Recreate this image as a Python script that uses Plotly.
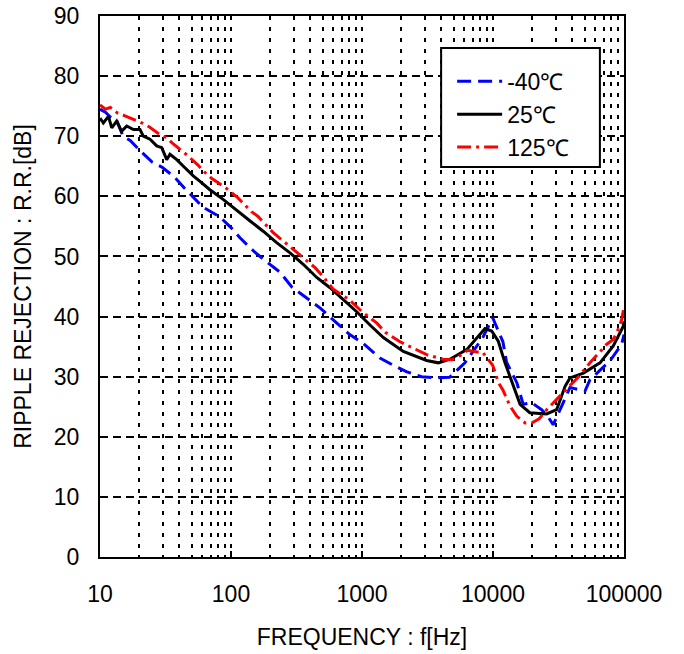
import plotly.graph_objects as go

# ---- data ----
freq_25 = [10, 10.6, 11.6, 12.3, 13.4, 14.6, 16.0, 18.0, 20.2, 21.4, 24.1, 27.1, 29.6, 32.3, 34.2,
           38.5, 43.3, 48.6, 51.5, 58, 69, 87, 110, 140, 176, 223, 282, 356, 451, 570, 720, 911,
           1151, 1455, 2067, 3116, 3822, 4697, 6300, 7510, 8690, 9770, 10970, 12350, 14300,
           16100, 19100, 25700, 30600, 35500, 38700, 49000, 65600, 82800, 98800, 100000]
rr_25 = [73.0, 72.2, 73.3, 71.4, 72.5, 70.8, 71.7, 71.1, 71.1, 70.0, 69.5, 68.4, 68.1, 66.1, 67.0,
         66.1, 65.0, 63.9, 63.4, 62.5, 61.1, 59.5, 57.8, 55.9, 54.2, 52.3, 50.6, 48.7, 46.5, 44.8,
         42.8, 40.8, 38.6, 36.5, 34.2, 32.7, 32.3, 32.9, 34.5, 36.5, 38.0, 37.6, 35.9, 32.3, 28.4,
         25.4, 24.0, 23.8, 24.5, 28.4, 29.8, 30.6, 32.3, 35.1, 38.4, 39.2]

freq_m40 = [10, 11, 12, 13.5, 15, 17, 20, 25, 30, 37, 44, 52, 61, 82, 100, 117, 152, 190, 236,
            292, 380, 480, 643, 806, 1011, 1370, 1700, 2200, 2850, 3600, 4660, 6100, 7200, 8400,
            9950, 11900, 12700, 15200, 17000, 19700, 21500, 23500, 26000, 28800, 34400, 38700,
            50400, 55000, 78000, 96000, 100000]
rr_m40 = [74.5, 74.0, 73.2, 72.5, 70.0, 69.3, 67.7, 65.7, 64.8, 63.2, 61.4, 59.8, 58.2, 56.6,
          54.8, 53.1, 50.7, 49.0, 47.4, 44.9, 43.0, 41.4, 38.9, 37.0, 35.6, 33.1, 32.0, 30.8,
          30.0, 29.8, 29.9, 32.3, 34.5, 36.6, 39.8, 35.8, 32.4, 29.0, 25.4, 25.7, 25.1, 24.5,
          23.5, 22.0, 25.7, 28.2, 27.6, 29.5, 32.6, 35.4, 37.0]

freq_125 = [10, 11, 12, 13.5, 15.5, 18, 21, 24, 27.7, 32.5, 35.5, 46, 51, 56, 63, 71, 90, 111,
            144, 160, 209, 270, 336, 440, 494, 600, 800, 1000, 1300, 1500, 1950, 2500, 3170,
            4140, 4850, 5600, 6400, 7600, 8300, 9950, 11000, 11900, 13500, 15200, 17600, 19700,
            22500, 25700, 29700, 33000, 37600, 45000, 55000, 65000, 73800, 82800, 90000, 96000,
            100000]
rr_125 = [75.2, 74.5, 74.8, 73.9, 73.4, 72.8, 72.2, 71.5, 70.5, 69.7, 68.9, 66.9, 66.0, 65.2,
          64.0, 63.0, 61.5, 59.9, 57.4, 56.7, 54.0, 52.0, 50.2, 48.1, 46.9, 44.6, 42.8, 40.8,
          38.9, 37.4, 35.8, 34.7, 33.6, 32.9, 32.8, 33.5, 34.4, 34.1, 34.1, 31.9, 29.0, 27.8,
          25.1, 23.4, 22.3, 22.3, 23.0, 24.5, 25.9, 27.0, 28.2, 30.0, 32.3, 34.0, 35.4, 36.2,
          37.8, 39.5, 41.6]

x_tickvals = [10, 100, 1000, 10000, 100000]
x_ticktext = ["10", "100", "1000", "10000", "100000"]
x_minor = [m * d for d in [10, 100, 1000, 10000] for m in range(2, 10)]
y_tickvals = [0, 10, 20, 30, 40, 50, 60, 70, 80, 90]

FONT = "Liberation Sans, Arial, sans-serif"

fig = go.Figure()
fig.add_trace(go.Scatter(x=freq_m40, y=rr_m40, mode="lines", name="-40℃",
                         line=dict(color="#0000FF", width=3, dash="14px,7px")))
fig.add_trace(go.Scatter(x=freq_25, y=rr_25, mode="lines", name="25℃",
                         line=dict(color="black", width=3)))
fig.add_trace(go.Scatter(x=freq_125, y=rr_125, mode="lines", name="125℃",
                         line=dict(color="#FF0000", width=3, dash="14px,5px,3px,5px")))

# legend frame (white box with black border, drawn above the curves)
fig.add_shape(type="rect", xref="paper", yref="paper",
              x0=0.651, x1=0.954, y0=0.721, y1=0.941,
              line=dict(color="black", width=2), fillcolor="white", layer="above")

fig.update_layout(
    width=684, height=654,
    margin=dict(l=100, r=60, t=16, b=97),
    paper_bgcolor="white", plot_bgcolor="white",
    font=dict(family=FONT, size=23, color="black"),
    showlegend=True,
    legend=dict(x=0.672, y=0.919, xanchor="left", yanchor="top",
                borderwidth=0, bgcolor="rgba(0,0,0,0)",
                font=dict(family=FONT, size=23, color="black"),
                itemwidth=45, tracegroupgap=0),
    xaxis=dict(
        type="log", range=[1, 5], automargin=False, ticklabeloverflow="allow",
        tickmode="array", tickvals=x_tickvals, ticktext=x_ticktext,
        ticks="inside", ticklen=6, tickwidth=2, tickcolor="black",
        showline=True, linecolor="black", linewidth=2, mirror=True,
        showgrid=True, gridcolor="black", gridwidth=2, griddash="4px,7px",
        minor=dict(tickmode="array", tickvals=x_minor, showgrid=True,
                   gridcolor="black", gridwidth=2, griddash="4px,7px", ticks=""),
        ticklabelstandoff=15,
        title=dict(text="FREQUENCY : f[Hz]", font=dict(family=FONT, size=23), standoff=23),
        zeroline=False,
    ),
    yaxis=dict(
        range=[0, 90], tickmode="array", tickvals=y_tickvals, automargin=False,
        ticklabeloverflow="allow",
        ticks="inside", ticklen=6, tickwidth=2, tickcolor="black",
        showline=True, linecolor="black", linewidth=2, mirror=True,
        showgrid=True, gridcolor="black", gridwidth=1.5, griddash="8px,5px",
        ticklabelstandoff=14,
        title=dict(text="RIPPLE REJECTION : R.R.[dB]", font=dict(family=FONT, size=23), standoff=16),
        zeroline=False,
    ),
)

fig.write_html("out.html", config={"displayModeBar": False},
               post_script="document.body.style.margin='0';")
